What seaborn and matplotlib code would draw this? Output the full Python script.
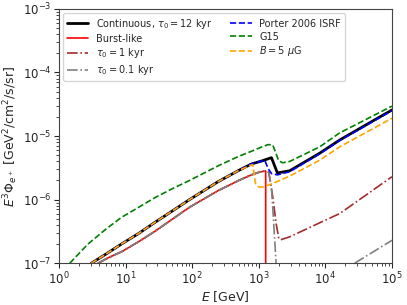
import matplotlib
matplotlib.use("Agg")
import matplotlib.pyplot as plt
import seaborn as sns

# ---- data ----
E_cont = [3.06, 5.0, 8.65, 15.8, 27.4, 50, 91.2, 244, 500, 774, 1122, 1549, 1905, 2911, 8222, 16400, 100000]
phi_cont = [1.0e-7, 1.38e-7, 2.0e-7, 2.95e-7, 4.37e-7, 6.6e-7, 1.0e-6, 1.91e-6, 2.88e-6, 3.63e-6, 4.07e-6, 4.57e-6, 2.63e-6, 2.84e-6, 5.37e-6, 8.65e-6, 2.57e-5]

E_low = [3.85, 5.6, 8.65, 15.8, 27.4, 50, 91.2, 244, 500, 774, 1000, 1230]
phi_low = [1.0e-7, 1.23e-7, 1.51e-7, 2.19e-7, 3.16e-7, 4.9e-7, 7.59e-7, 1.38e-6, 2.0e-6, 2.45e-6, 2.69e-6, 2.82e-6]

E_burst = E_low + [1270, 1270]
phi_burst = phi_low + [2.82e-6, 1.0e-8]

E_t1 = E_low + [1413, 1622, 1820, 1995, 2138, 2911, 10000, 16400, 100000]
phi_t1 = phi_low + [2.69e-6, 1.1e-6, 4.27e-7, 2.45e-7, 2.34e-7, 2.6e-7, 4.75e-7, 6.03e-7, 2.29e-6]

E_t01_a = E_low + [1413, 1549, 1660, 1820, 1900]
phi_t01_a = phi_low + [2.69e-6, 1.58e-6, 5.0e-7, 1.0e-7, 1.0e-8]
E_t01_b = [27540, 100000]
phi_t01_b = [1.0e-7, 2.29e-7]

E_porter = [3.06, 5.0, 8.65, 15.8, 27.4, 50, 91.2, 244, 500, 774, 1230, 1380, 1549, 1905, 2911, 8222, 16400, 100000]
phi_porter = [1.0e-7, 1.38e-7, 2.0e-7, 2.95e-7, 4.37e-7, 6.6e-7, 1.0e-6, 1.91e-6, 2.88e-6, 3.63e-6, 4.17e-6, 3.09e-6, 2.57e-6, 2.45e-6, 2.75e-6, 5.25e-6, 8.5e-6, 2.5e-5]

E_g15 = [1.45, 2.72, 5.0, 8.65, 15.8, 27.4, 50, 91.2, 244, 500, 774, 1122, 1380, 1622, 1820, 1995, 2290, 2911, 8222, 16400, 100000]
phi_g15 = [1.0e-7, 2.0e-7, 3.4e-7, 5.25e-7, 7.6e-7, 1.07e-6, 1.48e-6, 2.0e-6, 3.39e-6, 4.8e-6, 5.75e-6, 6.76e-6, 7.33e-6, 7.24e-6, 5.25e-6, 4.07e-6, 3.8e-6, 3.98e-6, 6.76e-6, 1.12e-5, 2.95e-5]

E_b5 = [3.06, 5.0, 8.65, 15.8, 27.4, 50, 91.2, 244, 500, 774, 813, 891, 1000, 1148, 1585, 2911, 8222, 16400, 100000]
phi_b5 = [1.0e-7, 1.38e-7, 2.0e-7, 2.95e-7, 4.37e-7, 6.6e-7, 1.0e-6, 1.91e-6, 2.88e-6, 3.5e-6, 3.55e-6, 1.8e-6, 1.58e-6, 1.58e-6, 1.78e-6, 2.34e-6, 4.17e-6, 6.76e-6, 1.9e-5]

sns.set_theme(style="ticks")
plt.rcParams['font.family'] = ['DejaVu Sans']

fig = plt.figure(figsize=(4.07, 3.05), dpi=100)
ax = fig.add_axes([0.145, 0.137, 0.818, 0.834])

kw = dict(ax=ax, estimator=None, sort=False)
sns.lineplot(x=E_cont, y=phi_cont, color="black", lw=2.0, label=r"Continuous, $\tau_0 = 12$ kyr", **kw)
sns.lineplot(x=E_burst, y=phi_burst, color="red", lw=1.2, label="Burst-like", **kw)
sns.lineplot(x=E_t1, y=phi_t1, color="brown", lw=1.2, linestyle="-.", label=r"$\tau_0 = 1$ kyr", **kw)
sns.lineplot(x=E_t01_a, y=phi_t01_a, color="grey", lw=1.2, linestyle="-.", label=r"$\tau_0 = 0.1$ kyr", **kw)
sns.lineplot(x=E_t01_b, y=phi_t01_b, color="grey", lw=1.2, linestyle="-.", **kw)
sns.lineplot(x=E_porter, y=phi_porter, color="blue", lw=1.2, linestyle="--", label="Porter 2006 ISRF", **kw)
sns.lineplot(x=E_g15, y=phi_g15, color="green", lw=1.2, linestyle="--", label="G15", **kw)
sns.lineplot(x=E_b5, y=phi_b5, color="orange", lw=1.2, linestyle="--", label=r"$B = 5\ \mu$G", **kw)

ax.set_xscale("log")
ax.set_yscale("log")
ax.set_xlim(1, 1e5)
ax.set_ylim(1e-7, 1e-3)
ax.set_xlabel(r"$E$ [GeV]", fontsize=9, labelpad=1)
ax.set_ylabel(r"$E^3\Phi_{e^+}$ [GeV$^2$/cm$^2$/s/sr]", fontsize=9, labelpad=2)
ax.tick_params(axis="both", which="major", labelsize=8.5, length=3.5, width=0.8, pad=2)
ax.tick_params(axis="both", which="minor", length=2, width=0.6)
for s in ax.spines.values():
    s.set_visible(True)
    s.set_color("#444444")
    s.set_linewidth(0.8)

ax.legend(loc="upper left", ncol=2, fontsize=7.0, frameon=True, handlelength=2.2,
          columnspacing=1.8, labelspacing=0.3, borderaxespad=0.4)

fig.savefig("out.png", dpi=100)
